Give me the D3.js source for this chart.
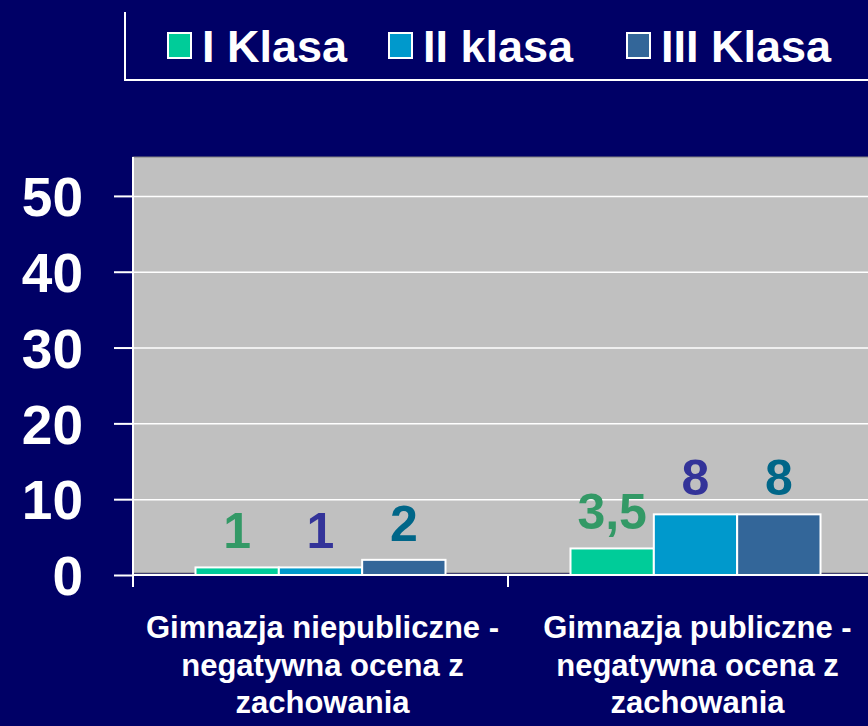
<!DOCTYPE html>
<html>
<head>
<meta charset="utf-8">
<script src="https://cdn.jsdelivr.net/npm/d3@7"></script>
<style>
  html, body { margin: 0; padding: 0; background: #000066; overflow: hidden; }
  svg { display: block; }
  .axisLeft text { font-family: "Liberation Sans", Arial, sans-serif; font-weight: bold; }
</style>
</head>
<body>
<svg id="chart"></svg>
<script>
// dane wykresu

var categories = [
  "Gimnazja niepubliczne -\nnegatywna ocena z\nzachowania",
  "Gimnazja publiczne -\nnegatywna ocena z\nzachowania"
];
var series = ["I Klasa", "II klasa", "III Klasa"];
var klasa1 = [1, 3.5];
var klasa2 = [1, 8];
var klasa3 = [2, 8];
var valueLabels = [["1", "3,5"], ["1", "8"], ["2", "8"]];
var yTicks = [0, 10, 20, 30, 40, 50];

var w = 868;
var h = 726;

// kolory
var barColors   = ["#00CC99", "#0099CC", "#336699"];
var labelColors = ["#339966", "#333399", "#006688"];

var svg = d3.select("#chart")
    .attr("width", w)
    .attr("height", h);

// obszar wykresu
var plotLeft = 133, plotRight = 883, plotTop = 157, zeroY = 575;

var x0 = d3.scaleBand()
    .domain(categories)
    .range([plotLeft, plotRight])
    .padding(0);

var x1 = d3.scaleBand()
    .domain(series)
    .range([0, x0.bandwidth()])
    .paddingInner(0)
    .paddingOuter(0.75);

var yScale = d3.scaleLinear()
    .domain([0, 55])
    .range([zeroY, plotTop + 1]);

// szare tlo
svg.append("rect")
    .attr("x", plotLeft)
    .attr("y", plotTop)
    .attr("width", plotRight - plotLeft)
    .attr("height", zeroY - plotTop - 2)
    .attr("fill", "#C0C0C0")
    .attr("stroke", "#808080")
    .attr("stroke-width", 1);

// siatka
svg.append("g")
    .attr("class", "grid")
    .attr("transform", "translate(" + plotLeft + ",0)")
    .call(d3.axisLeft(yScale)
        .tickValues(yTicks.filter(function(d) { return d > 0; }))
        .tickSize(-(plotRight - plotLeft))
        .tickFormat(""))
    .call(function(g) { g.select(".domain").remove(); })
    .selectAll("line")
    .attr("stroke", "#FFFFFF")
    .attr("stroke-width", 1.5);

// slupki
var seriesData = [klasa1, klasa2, klasa3];

series.forEach(function(s, si) {
    var g = svg.append("g").attr("class", "serie");
    var vals = seriesData[si];

    g.selectAll("rect")
        .data(vals)
        .enter()
        .append("rect")
        .attr("x", function(d, i) { return x0(categories[i]) + x1(s); })
        .attr("y", function(d) { return yScale(d); })
        .attr("width", x1.bandwidth())
        .attr("height", function(d) { return zeroY - yScale(d); })
        .attr("fill", barColors[si])
        .attr("stroke", "#FFFFFF")
        .attr("stroke-width", 2);

    g.selectAll("text")
        .data(vals)
        .enter()
        .append("text")
        .attr("x", function(d, i) { return x0(categories[i]) + x1(s) + x1.bandwidth() / 2; })
        .attr("y", function(d) { return yScale(d) - 19; })
        .attr("text-anchor", "middle")
        .style("font-family", "'Liberation Sans', Arial, sans-serif")
        .style("font-weight", "bold")
        .style("font-size", "50px")
        .attr("fill", labelColors[si])
        .text(function(d, i) { return valueLabels[si][i]; });
});

// os y
var yAxisLeft = d3.axisLeft(yScale)
    .tickValues(yTicks)
    .tickSizeInner(19)
    .tickSizeOuter(0)
    .tickPadding(31)
    .tickFormat(d3.format("d"));

var gy = svg.append("g")
    .attr("class", "axisLeft")
    .attr("transform", "translate(" + plotLeft + ",0)")
    .call(yAxisLeft);

gy.select(".domain").remove();
gy.selectAll("line").attr("stroke", "#FFFFFF").attr("stroke-width", 2);
gy.selectAll("text")
    .attr("fill", "#FFFFFF")
    .attr("dy", "0.36em")
    .style("font-size", "55px");

svg.append("line")
    .attr("x1", plotLeft).attr("x2", plotLeft)
    .attr("y1", plotTop).attr("y2", zeroY + 12)
    .attr("stroke", "#FFFFFF")
    .attr("stroke-width", 2);

// os x
svg.append("line")
    .attr("x1", plotLeft).attr("x2", plotRight)
    .attr("y1", zeroY).attr("y2", zeroY)
    .attr("stroke", "#FFFFFF")
    .attr("stroke-width", 2);

svg.selectAll(".xtick")
    .data(categories)
    .enter()
    .append("line")
    .attr("class", "xtick")
    .attr("x1", function(d) { return x0(d) + x0.bandwidth(); })
    .attr("x2", function(d) { return x0(d) + x0.bandwidth(); })
    .attr("y1", zeroY)
    .attr("y2", zeroY + 12)
    .attr("stroke", "#FFFFFF")
    .attr("stroke-width", 2);

// etykiety kategorii
categories.forEach(function(c) {
    var t = svg.append("text")
        .attr("text-anchor", "middle")
        .attr("fill", "#FFFFFF")
        .style("font-family", "'Liberation Sans', Arial, sans-serif")
        .style("font-weight", "bold")
        .style("font-size", "31px");
    c.split("\n").forEach(function(line, k) {
        t.append("tspan")
            .attr("x", x0(c) + x0.bandwidth() / 2 + 2)
            .attr("y", zeroY + 63 + k * 37.5)
            .text(line);
    });
});

// legenda
var legendX = [168, 389, 627];
var legend = svg.append("g").attr("class", "legend");

legend.append("path")
    .attr("d", "M125,12 V80 H868")
    .attr("fill", "none")
    .attr("stroke", "#FFFFFF")
    .attr("stroke-width", 2);

series.forEach(function(s, si) {
    legend.append("rect")
        .attr("x", legendX[si])
        .attr("y", 33)
        .attr("width", 23)
        .attr("height", 25)
        .attr("fill", barColors[si])
        .attr("stroke", "#FFFFFF")
        .attr("stroke-width", 2);
    legend.append("text")
        .attr("x", legendX[si] + 34)
        .attr("y", 62)
        .attr("fill", "#FFFFFF")
        .style("font-family", "'Liberation Sans', Arial, sans-serif")
        .style("font-weight", "bold")
        .style("font-size", "45px")
        .text(s);
});
</script>
</body>
</html>
